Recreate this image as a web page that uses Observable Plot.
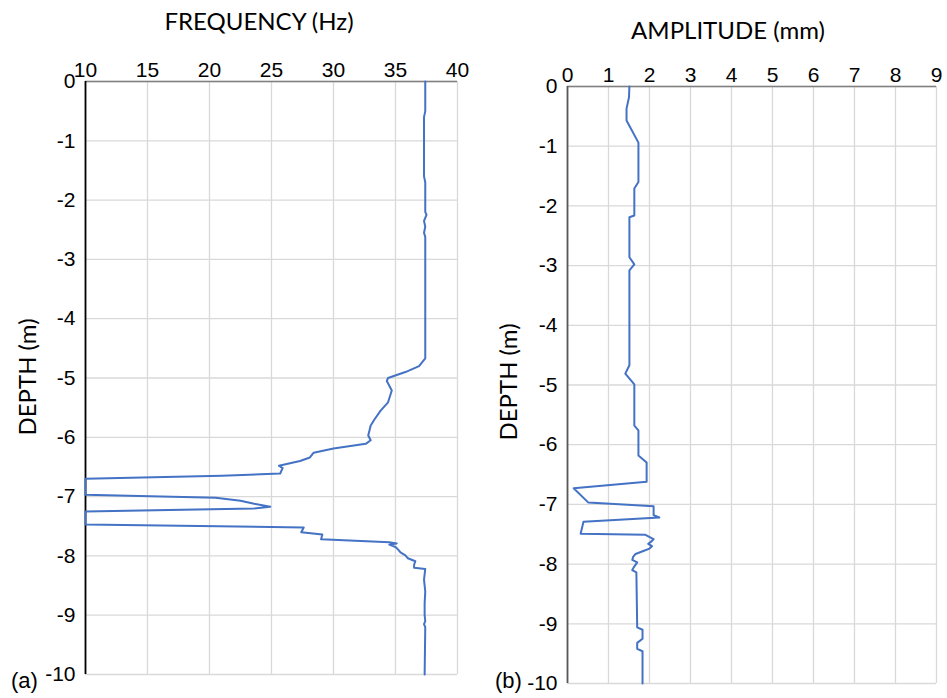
<!DOCTYPE html>
<html>
<head>
<meta charset="utf-8">
<script src="https://cdn.jsdelivr.net/npm/d3@7"></script>
<script src="https://cdn.jsdelivr.net/npm/@observablehq/plot@0.6"></script>
<style>
  html, body { margin: 0; padding: 0; background: #fff; }
  #wrap { position: relative; width: 947px; height: 698px; overflow: hidden; }
  .chart { position: absolute; top: 0; }
  .title { position: absolute; font-family: Lato, "Open Sans", sans-serif; font-size: 24px; color: #000; white-space: nowrap; transform: translateX(-50%); }
  .ylab { position: absolute; font-family: Lato, "Open Sans", sans-serif; font-size: 24px; color: #000; white-space: nowrap; transform: translate(-50%, -50%) rotate(-90deg); }
  .panel { position: absolute; font-family: "Liberation Sans", Arial, sans-serif; font-size: 22px; color: #000; }
</style>
</head>
<body>
<div id="wrap">
  <div class="title" style="left:259px; top:6px;">FREQUENCY (Hz)</div>
  <div class="title" style="left:728px; top:15px;">AMPLITUDE (mm)</div>
  <div class="ylab" style="left:26px; top:377px;">DEPTH (m)</div>
  <div class="ylab" style="left:507px; top:382px;">DEPTH (m)</div>
  <div class="panel" style="left:11px; top:668px;">(a)</div>
  <div class="panel" style="left:495px; top:668px;">(b)</div>
  <div id="a" class="chart" style="left:0px;"></div>
  <div id="b" class="chart" style="left:475px;"></div>
</div>
<script>
// Panel (a): frequency vs depth
const freqDepth = [0, -0.5, -0.6, -1.6, -1.7, -2.2, -2.25, -2.35, -2.45, -2.55, -2.62, -4.67, -4.8, -4.9, -5.0, -5.05, -5.21, -5.41, -5.55, -5.7, -5.8, -5.97, -6.05, -6.11, -6.19, -6.26, -6.34, -6.4, -6.48, -6.52, -6.61, -6.65, -6.7, -6.97, -7.02, -7.07, -7.12, -7.17, -7.2, -7.25, -7.47, -7.52, -7.6, -7.64, -7.72, -7.77, -7.79, -7.81, -7.85, -7.89, -7.94, -7.99, -8.04, -8.09, -8.15, -8.2, -8.22, -8.4, -8.6, -8.8, -9.0, -9.1, -9.15, -9.2, -10];
const freqHz    = [37.4, 37.4, 37.3, 37.3, 37.4, 37.4, 37.5, 37.3, 37.4, 37.3, 37.4, 37.4, 36.9, 35.8, 34.4, 34.3, 34.7, 34.4, 33.8, 33.3, 33.0, 32.8, 33.0, 32.6, 30.0, 28.4, 28.1, 27.3, 25.6, 25.9, 25.7, 21.0, 10, 10, 20.5, 22.5, 23.6, 24.9, 23.6, 10, 10, 27.6, 27.4, 29.1, 29.0, 34.5, 35.1, 34.5, 35.0, 35.2, 35.4, 35.8, 36.0, 36.6, 36.5, 36.5, 37.4, 37.3, 37.4, 37.35, 37.35, 37.4, 37.3, 37.4, 37.35];

// Panel (b): amplitude vs depth
const ampDepth = [0, -0.18, -0.37, -0.57, -0.94, -1.6, -1.71, -2.16, -2.19, -2.86, -2.98, -3.08, -4.67, -4.81, -4.99, -5.68, -5.76, -6.18, -6.3, -6.62, -6.73, -6.97, -7.03, -7.18, -7.22, -7.29, -7.49, -7.51, -7.58, -7.62, -7.66, -7.7, -7.74, -7.78, -7.83, -7.88, -7.93, -7.97, -8.05, -8.1, -8.14, -9.06, -9.1, -9.25, -9.32, -9.42, -9.46, -10];
const ampMm    = [1.51, 1.5, 1.44, 1.44, 1.73, 1.73, 1.63, 1.63, 1.51, 1.51, 1.63, 1.51, 1.51, 1.41, 1.63, 1.63, 1.73, 1.73, 1.93, 1.93, 0.15, 0.51, 2.1, 2.1, 2.24, 0.39, 0.32, 1.9, 2.1, 2.05, 1.97, 2.06, 2.0, 1.85, 1.66, 1.6, 1.58, 1.7, 1.62, 1.58, 1.68, 1.7, 1.83, 1.83, 1.7, 1.7, 1.83, 1.83];

const freqTicks = [10, 15, 20, 25, 30, 35, 40];
const ampTicks = [0, 1, 2, 3, 4, 5, 6, 7, 8, 9];
const depthTicks = [0, -1, -2, -3, -4, -5, -6, -7, -8, -9, -10];

const freqData = freqDepth.map((d, i) => ({depth: d, value: freqHz[i]}));
const ampData = ampDepth.map((d, i) => ({depth: d, value: ampMm[i]}));

const plain = d => String(d);

function panel({data, xDomain, xTicks, width, height, mL, mR, mT, mB, yAxisColor, yAxisWidth}) {
  return Plot.plot({
    width, height,
    marginLeft: mL, marginRight: mR, marginTop: mT, marginBottom: mB,
    style: {fontFamily: "'Liberation Sans', Arial, sans-serif", fontSize: "21px", color: "#000", background: "transparent", overflow: "visible"},
    x: {domain: xDomain, axis: "top", ticks: xTicks, tickSize: 0, tickPadding: 5, tickFormat: plain, label: null},
    y: {domain: [-10, 0], ticks: depthTicks, tickSize: 0, tickPadding: 10, tickFormat: plain, label: null},
    marks: [
      Plot.ruleX(xTicks, {stroke: "#d9d9d9", strokeWidth: 1.3}),
      Plot.ruleY(depthTicks, {stroke: "#d9d9d9", strokeWidth: 1.3}),
      Plot.ruleY([0], {stroke: "#808080", strokeWidth: 1.5}),
      Plot.ruleX([xDomain[0]], {stroke: yAxisColor, strokeWidth: yAxisWidth}),
      Plot.line(data, {x: "value", y: "depth", stroke: "#4472C4", strokeWidth: 2, curve: "linear"})
    ]
  });
}

document.getElementById("a").appendChild(panel({
  data: freqData, xDomain: [10, 40], xTicks: freqTicks,
  width: 475, height: 698, mL: 85, mR: 18, mT: 81, mB: 24,
  yAxisColor: "#000", yAxisWidth: 1.8
}));
document.getElementById("b").appendChild(panel({
  data: ampData, xDomain: [0, 9], xTicks: ampTicks,
  width: 472, height: 698, mL: 92, mR: 11, mT: 86, mB: 15,
  yAxisColor: "#595959", yAxisWidth: 1.8
}));
</script>
</body>
</html>
